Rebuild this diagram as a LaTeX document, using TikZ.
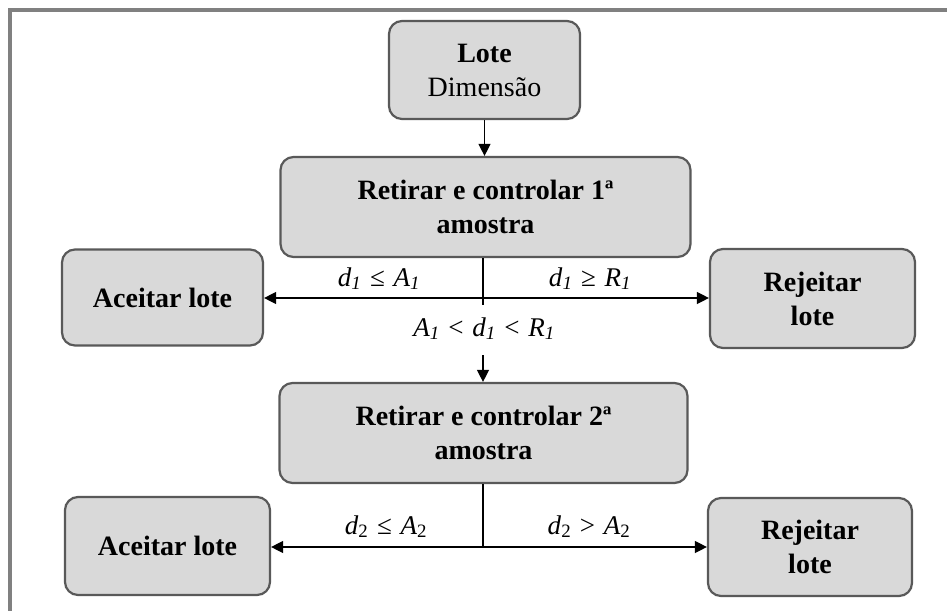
\documentclass[tikz,border=0pt]{standalone}
\usepackage{fontspec}
\setmainfont{Liberation Serif}
\usetikzlibrary{arrows.meta}
\definecolor{boxfill}{HTML}{D9D9D9}
\definecolor{boxline}{HTML}{595959}
\definecolor{framegray}{HTML}{808080}
% italic letter with subscript
\newcommand{\ltr}[2]{\textit{#1}\textsubscript{#2}}
\newcommand{\gap}{\hspace{0.32em}}
\begin{document}
\begin{tikzpicture}[x=1pt,y=-1pt,
  stepbox/.style={draw=boxline, fill=boxfill, line width=2.2pt,
    rounded corners=13pt, align=center, inner sep=0pt,
    font=\fontsize{28}{34}\selectfont\bfseries},
  conn/.style={line width=1.3pt, black},
  arr/.style={conn, -{Triangle[length=12pt,width=12pt]}},
  cond/.style={anchor=base, inner sep=0pt, font=\fontsize{27}{32}\selectfont}]
\useasboundingbox (0,0) rectangle (947,610);
% outer frame (top and left edges)
\draw[framegray, line width=4pt] (950,10.5) -- (10,10.5) -- (10,613);

% boxes
\node[stepbox, minimum width=191pt, minimum height=98pt] (lote) at (484.5,70)
  {Lote\\\mdseries Dimensão};
\node[stepbox, minimum width=410pt, minimum height=100pt] (r1) at (485.5,207)
  {Retirar e controlar 1ª\\amostra};
\node[stepbox, minimum width=201pt, minimum height=96pt] (a1) at (162.5,297.5)
  {Aceitar lote};
\node[stepbox, minimum width=205pt, minimum height=99pt] (j1) at (812.5,298.5)
  {Rejeitar\\lote};
\node[stepbox, minimum width=408pt, minimum height=100pt] (r2) at (483.5,433)
  {Retirar e controlar 2ª\\amostra};
\node[stepbox, minimum width=205pt, minimum height=98pt] (a2) at (167.5,546)
  {Aceitar lote};
\node[stepbox, minimum width=204pt, minimum height=98pt] (j2) at (810,547)
  {Rejeitar\\lote};

% junction points
\coordinate (c1) at (483,298);
\coordinate (c1end) at (483,305);
\coordinate (c1next) at (483,355);
\coordinate (c2) at (483,547);

% connectors
\draw[arr] (lote.south) -- (lote.south |- r1.north);
\draw[conn] (r1.south -| c1) -- (c1end);
\draw[arr] (c1) -- (a1.east |- c1);
\draw[arr] (c1) -- (j1.west |- c1);
\draw[arr] (c1next) -- (c1next |- r2.north);
\draw[conn] (r2.south -| c2) -- (c2);
\draw[arr] (c2) -- (a2.east |- c2);
\draw[arr] (c2) -- (j2.west |- c2);

% conditions
\node[cond] (t1) at (379,286) {\ltr{d}{\textit{1}}\gap≤\gap\ltr{A}{\textit{1}}};
\node[cond] (t2) at (590,286) {\ltr{d}{\textit{1}}\gap≥\gap\ltr{R}{\textit{1}}};
\node[cond] (t3) at (484,336) {\ltr{A}{\textit{1}}\gap<\gap\ltr{d}{\textit{1}}\gap<\gap\ltr{R}{\textit{1}}};
\node[cond] (t4) at (386,534) {\ltr{d}{2}\gap≤\gap\ltr{A}{2}};
\node[cond] (t5) at (589,534) {\ltr{d}{2}\gap>\gap\ltr{A}{2}};
\end{tikzpicture}
\end{document}
